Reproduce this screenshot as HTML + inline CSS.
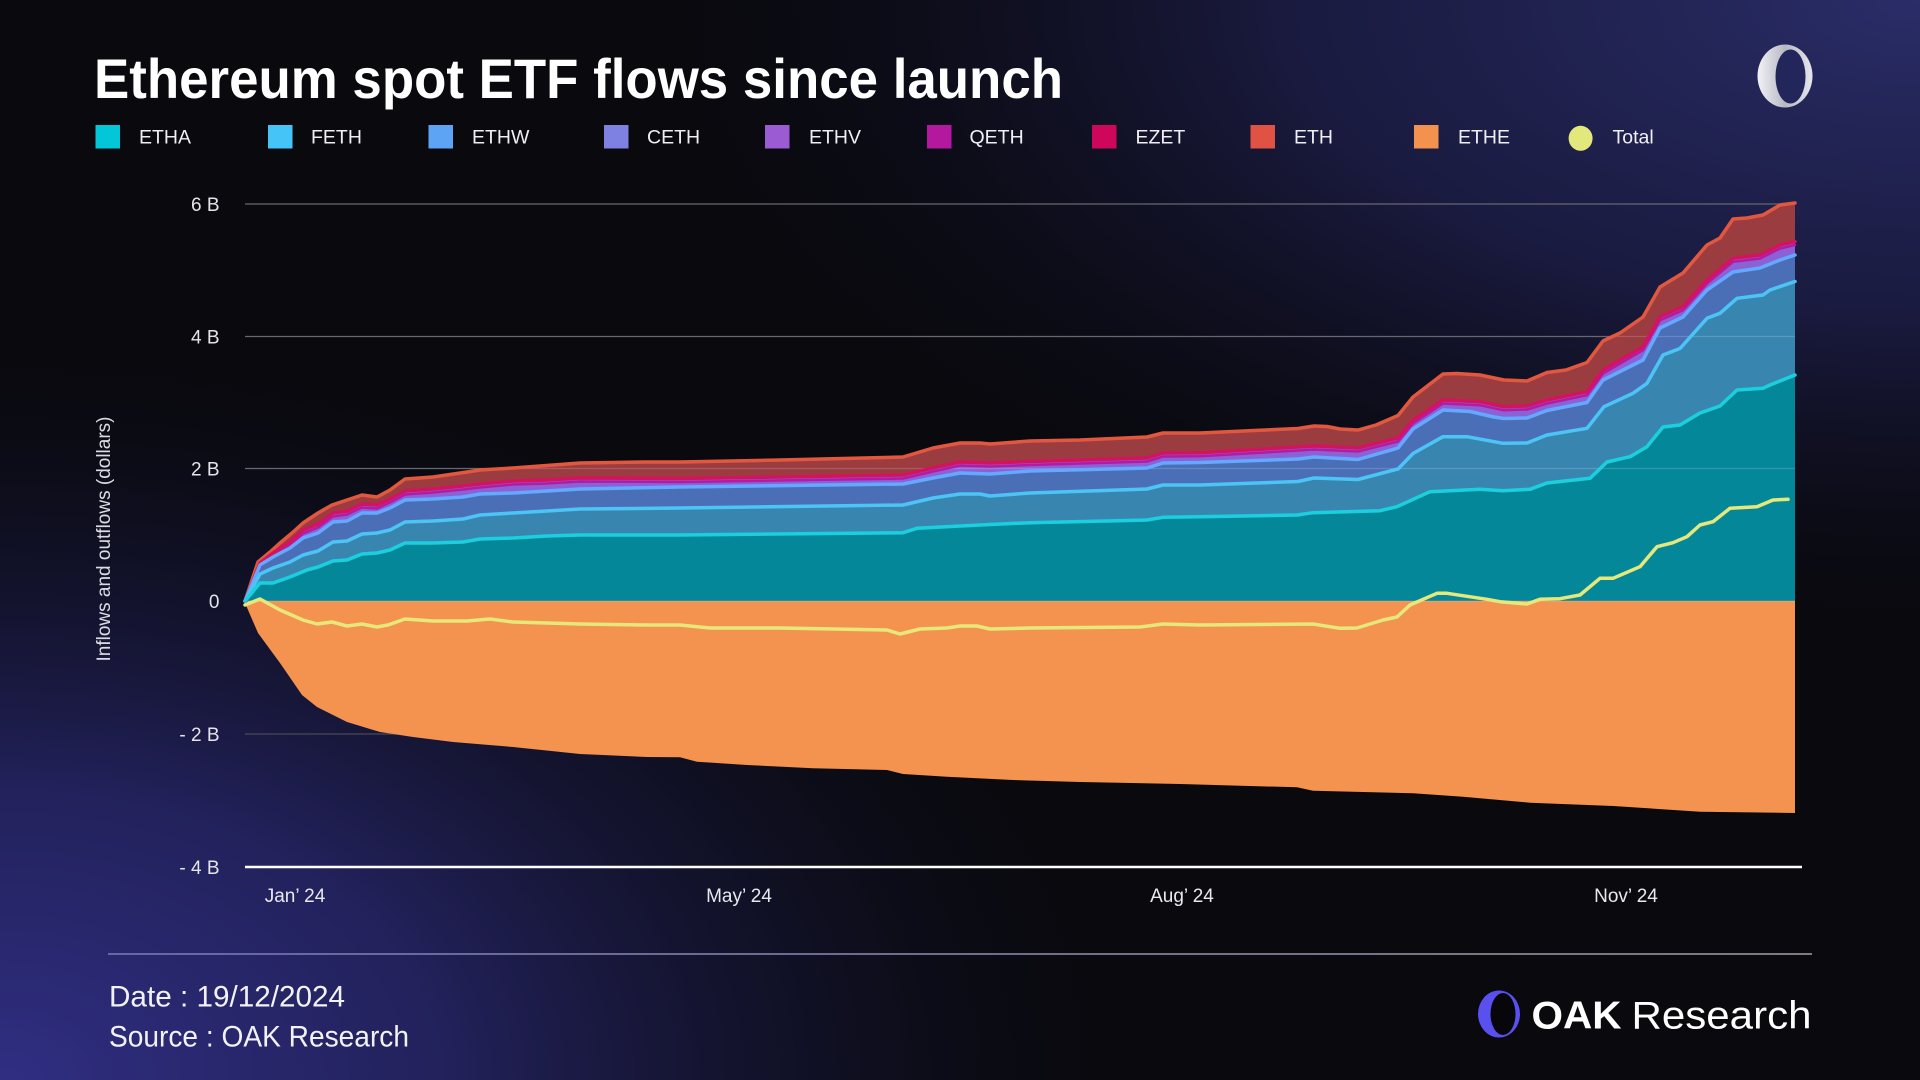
<!DOCTYPE html>
<html><head><meta charset="utf-8"><title>Ethereum spot ETF flows since launch</title>
<style>
html,body{margin:0;padding:0;background:#09090e;}
svg{display:block;}
text{font-family:"Liberation Sans",sans-serif;}
</style></head>
<body>
<svg width="1920" height="1080" viewBox="0 0 1920 1080" xmlns="http://www.w3.org/2000/svg">
<defs>
  <radialGradient id="bl" cx="0" cy="0" r="1" gradientUnits="userSpaceOnUse" gradientTransform="translate(0,1080) scale(1100,720)">
    <stop offset="0" stop-color="#302e82" stop-opacity="1"/>
    <stop offset="0.4" stop-color="#27266a" stop-opacity="0.85"/>
    <stop offset="0.75" stop-color="#1a1a44" stop-opacity="0.4"/>
    <stop offset="1" stop-color="#14142c" stop-opacity="0"/>
  </radialGradient>
  <radialGradient id="tr" cx="0" cy="0" r="1" gradientUnits="userSpaceOnUse" gradientTransform="translate(1920,0) scale(1250,620)">
    <stop offset="0" stop-color="#2a2d68" stop-opacity="1"/>
    <stop offset="0.5" stop-color="#1e1f4c" stop-opacity="0.8"/>
    <stop offset="1" stop-color="#101024" stop-opacity="0"/>
  </radialGradient>
  <linearGradient id="fl" gradientUnits="userSpaceOnUse" x1="108" y1="954" x2="1812" y2="954">
    <stop offset="0" stop-color="#7d7bb8"/>
    <stop offset="1" stop-color="#a2a2aa"/>
  </linearGradient>
  <linearGradient id="ring" x1="0" y1="0" x2="1" y2="0">
    <stop offset="0" stop-color="#f2f2f6"/>
    <stop offset="0.5" stop-color="#b8b8c4"/>
    <stop offset="1" stop-color="#e6e6ee"/>
  </linearGradient>
  <path id="zp" d="M245,601 L260,563 273,553 290,542 303,530 318,524 333,513 347,511 362,504 377,505 390,499 405,491 433,489 463,486 480,484 513,481 547,480 580,478 680,478.5 903,475 933,468 960,462 990,463 1030,461.5 1147,458 1163,453 1200,452.7 1298,447 1314,446 1358,448 1398,438 1413,420 1443,400 1480,401.7 1503,406.7 1527,406 1547,400 1587,391.7 1603,370 1643,346.7 1660,316.7 1683,306.7 1707,280 1733,258.3 1760,255 1780,245 1795,241.5"/>
</defs>

<!-- background -->
<rect x="0" y="0" width="1920" height="1080" fill="#09090e"/>
<rect x="0" y="0" width="1920" height="1080" fill="url(#tr)"/>
<rect x="0" y="0" width="1920" height="1080" fill="url(#bl)"/>

<!-- title -->
<text x="94" y="98" font-size="55.5" font-weight="bold" fill="#ffffff" textLength="969" lengthAdjust="spacingAndGlyphs">Ethereum spot ETF flows since launch</text>

<!-- top-right logo -->
<ellipse cx="1785" cy="76" rx="27.5" ry="31.5" fill="url(#ring)"/>
<ellipse cx="1790.5" cy="76.5" rx="15" ry="27" fill="#23265a"/>

<!-- legend -->
<g font-size="19.5" fill="#f0f0f4">
  <rect x="95.5" y="125" width="24.5" height="23.5" fill="#03c6d8"/><text x="139" y="143.5">ETHA</text>
  <rect x="268" y="125" width="24.5" height="23.5" fill="#45c4f8"/><text x="311" y="143.5">FETH</text>
  <rect x="428.5" y="125" width="24.5" height="23.5" fill="#5ea4f5"/><text x="472" y="143.5">ETHW</text>
  <rect x="604" y="125" width="24.5" height="23.5" fill="#7e80e2"/><text x="647" y="143.5">CETH</text>
  <rect x="765" y="125" width="24.5" height="23.5" fill="#9b5bd2"/><text x="809" y="143.5">ETHV</text>
  <rect x="927" y="125" width="24.5" height="23.5" fill="#b4189e"/><text x="969.5" y="143.5">QETH</text>
  <rect x="1092" y="125" width="24.5" height="23.5" fill="#cf075a"/><text x="1135.5" y="143.5">EZET</text>
  <rect x="1250.5" y="125" width="24.5" height="23.5" fill="#df5244"/><text x="1294" y="143.5">ETH</text>
  <rect x="1414" y="125" width="24.5" height="23.5" fill="#f3924e"/><text x="1458" y="143.5">ETHE</text>
  <ellipse cx="1580.6" cy="138.3" rx="12" ry="12.5" fill="#e2e87b"/><text x="1612.5" y="143.5">Total</text>
</g>

<!-- gridlines (under) -->
<g stroke="#4a4a54" stroke-width="1.2">
  <line x1="245" y1="204" x2="1795" y2="204"/>
  <line x1="245" y1="336.5" x2="1795" y2="336.5"/>
  <line x1="245" y1="468.5" x2="1795" y2="468.5"/>
  <line x1="245" y1="601" x2="1795" y2="601"/>
  <line x1="245" y1="734" x2="1795" y2="734"/>
</g>

<!-- y labels -->
<g font-size="19" fill="#e4e4ea" text-anchor="end">
  <text x="219.5" y="211">6 B</text>
  <text x="219.5" y="343.5">4 B</text>
  <text x="219.5" y="475.5">2 B</text>
  <text x="219.5" y="608">0</text>
  <text x="219.5" y="741">- 2 B</text>
  <text x="219.5" y="874">- 4 B</text>
</g>
<text transform="translate(110,539) rotate(-90)" font-size="19" fill="#dcdce4" text-anchor="middle">Inflows and outflows (dollars)</text>

<!-- x labels -->
<g font-size="19" fill="#e8e8ee" text-anchor="middle">
  <text x="295" y="902">Jan’ 24</text>
  <text x="739" y="902">May’ 24</text>
  <text x="1182" y="902">Aug’ 24</text>
  <text x="1626" y="902">Nov’ 24</text>
</g>

<!-- ETHE (negative) -->
<path d="M245,601 L245,603 258,633 280,663 302,695 317,707 347,722 380,732 413,737 453,742 513,747 580,754 647,757 680,757.3 697,761.7 747,765 813,768.3 887,770 903,774 947,776.7 1013,780 1080,782 1180,784 1297,787.3 1313,790.7 1413,793.3 1463,796.7 1530,802.7 1613,806 1700,811.7 1795,813 L1795,601 Z" fill="#f4924f"/>

<!-- ETH area (top) -->
<path d="M245,601 L258,562 270,552 280,543 292,533 303,523 318,513 332,505 347,500 362,495 377,497 390,490 405,479 433,477 467,472 480,470 513,468 540,466 580,463 647,462 680,462 780,460 903,457 933,448 960,443 980,443 990,444 1030,441 1080,440 1147,437 1163,433 1200,433 1298,428.5 1314,426 1327,426.5 1340,429 1358,430 1376,425 1398,415.5 1413,397 1443,374 1457,373.5 1480,375 1504,380 1527,381 1547,372.5 1566,370 1587,362.5 1603,341 1620,333 1643,317 1660,287 1683,273 1707,245 1720,238 1733,219 1747,218 1763,215 1780,205 1795,203 L1795,601 Z" fill="#9b3c41"/>

<!-- area under EZET (purple band) -->
<path d="M245,601 L260,563 273,553 290,542 303,530 318,524 333,513 347,511 362,504 377,505 390,499 405,491 433,489 463,486 480,484 513,481 547,480 580,478 680,478.5 903,475 933,468 960,462 990,463 1030,461.5 1147,458 1163,453 1200,452.7 1298,447 1314,446 1358,448 1398,438 1413,420 1443,400 1480,401.7 1503,406.7 1527,406 1547,400 1587,391.7 1603,370 1643,346.7 1660,316.7 1683,306.7 1707,280 1733,258.3 1760,255 1780,245 1795,241.5 L1795,601 Z" fill="#8a62d4"/>

<!-- ETHW area -->
<path d="M245,601 L260,565 273,557 290,548 303,538 318,533 333,522 347,521 362,513 377,513 390,508 405,500 433,499 463,497 480,494 513,493 547,491 580,489 680,487 903,484 933,478 960,473 990,474 1030,471 1147,468 1163,463 1200,462.5 1298,459 1314,457 1358,459.5 1398,448 1413,429 1443,410 1470,411.5 1494,417 1504,418.5 1527,418 1547,410.5 1587,402.5 1603,380 1643,360 1660,328 1683,317 1707,290 1733,272 1760,268 1780,260 1795,255 L1795,601 Z" fill="#4b6fb6"/>

<!-- FETH area -->
<path d="M245,601 L260,574 273,568 290,562 303,555 318,551 333,542 347,541 362,534 377,533 390,530 405,522 433,521 463,519 480,515 513,513 547,511 580,509 680,508 903,505 933,498 960,494 980,494 990,496 1030,493 1147,489 1163,485 1200,485 1298,481.5 1314,478 1358,479.5 1398,469 1413,453.5 1443,436.7 1467,436.7 1503,443.3 1527,443 1547,435 1587,428.3 1604,406.7 1633,393.3 1647,383.3 1663,355 1680,348.5 1707,318.3 1720,313.3 1737,298.3 1763,295 1770,290 1795,281.5 L1795,601 Z" fill="#3886b0"/>

<!-- ETHA area -->
<path d="M245,601 L260,583 273,583 290,577 307,570 318,567 333,561 347,560 362,554 377,553 390,550 405,543 433,543 463,542 480,539 513,538 547,536 580,535 680,535 903,532.7 917,528.3 980,525 1030,522.7 1147,520 1163,517.3 1200,516.7 1297,515 1313,512.7 1380,510.7 1397,506.7 1430,491.7 1480,489.3 1503,490.7 1530,489.3 1547,483 1590,478.3 1607,462 1630,456.7 1647,446.7 1663,427 1680,425 1700,413 1720,406 1737,390 1763,388.3 1770,385 1795,375 L1795,601 Z" fill="#05879a"/>

<!-- gridlines overlay -->
<g stroke="#ffffff" stroke-opacity="0.16" stroke-width="1.2">
  <line x1="245" y1="204" x2="1795" y2="204"/>
  <line x1="245" y1="336.5" x2="1795" y2="336.5"/>
  <line x1="245" y1="468.5" x2="1795" y2="468.5"/>
  <line x1="245" y1="601" x2="1795" y2="601"/>
</g>

<!-- series lines -->
<g fill="none" stroke-linejoin="round" stroke-linecap="round">
  <path d="M245,601 L258,562 270,552 280,543 292,533 303,523 318,513 332,505 347,500 362,495 377,497 390,490 405,479 433,477 467,472 480,470 513,468 540,466 580,463 647,462 680,462 780,460 903,457 933,448 960,443 980,443 990,444 1030,441 1080,440 1147,437 1163,433 1200,433 1298,428.5 1314,426 1327,426.5 1340,429 1358,430 1376,425 1398,415.5 1413,397 1443,374 1457,373.5 1480,375 1504,380 1527,381 1547,372.5 1566,370 1587,362.5 1603,341 1620,333 1643,317 1660,287 1683,273 1707,245 1720,238 1733,219 1747,218 1763,215 1780,205 1795,203" stroke="#e2583f" stroke-width="3.5"/>
  <use href="#zp" transform="translate(0,3.5)" stroke="#b41aa4" stroke-width="2.5"/>
  <use href="#zp" stroke="#d3135f" stroke-width="3.5"/>
  <path d="M245,601 L260,565 273,557 290,548 303,538 318,533 333,522 347,521 362,513 377,513 390,508 405,500 433,499 463,497 480,494 513,493 547,491 580,489 680,487 903,484 933,478 960,473 990,474 1030,471 1147,468 1163,463 1200,462.5 1298,459 1314,457 1358,459.5 1398,448 1413,429 1443,410 1470,411.5 1494,417 1504,418.5 1527,418 1547,410.5 1587,402.5 1603,380 1643,360 1660,328 1683,317 1707,290 1733,272 1760,268 1780,260 1795,255" stroke="#64a8ff" stroke-width="3.5"/>
  <path d="M245,601 L260,574 273,568 290,562 303,555 318,551 333,542 347,541 362,534 377,533 390,530 405,522 433,521 463,519 480,515 513,513 547,511 580,509 680,508 903,505 933,498 960,494 980,494 990,496 1030,493 1147,489 1163,485 1200,485 1298,481.5 1314,478 1358,479.5 1398,469 1413,453.5 1443,436.7 1467,436.7 1503,443.3 1527,443 1547,435 1587,428.3 1604,406.7 1633,393.3 1647,383.3 1663,355 1680,348.5 1707,318.3 1720,313.3 1737,298.3 1763,295 1770,290 1795,281.5" stroke="#4cc4f6" stroke-width="3.5"/>
  <path d="M245,601 L260,583 273,583 290,577 307,570 318,567 333,561 347,560 362,554 377,553 390,550 405,543 433,543 463,542 480,539 513,538 547,536 580,535 680,535 903,532.7 917,528.3 980,525 1030,522.7 1147,520 1163,517.3 1200,516.7 1297,515 1313,512.7 1380,510.7 1397,506.7 1430,491.7 1480,489.3 1503,490.7 1530,489.3 1547,483 1590,478.3 1607,462 1630,456.7 1647,446.7 1663,427 1680,425 1700,413 1720,406 1737,390 1763,388.3 1770,385 1795,375" stroke="#1ccfde" stroke-width="3.5"/>
  <path d="M245,605 L260,599 280,610 303,620 317,624 332,622 347,626 362,624 377,627 388,625 405,619 433,621 467,621 490,619 513,622 547,623 580,624 647,625 680,625 710,628 780,628 887,630 900,634 920,629 947,628 960,626 977,626 990,629 1030,628 1140,627 1163,624 1200,625 1313,624 1340,628.3 1357,628 1383,620 1397,617 1410,605 1437,593.3 1447,593.3 1487,599.3 1500,601.7 1527,604 1540,599.3 1560,598.7 1580,595 1600,578.3 1613,578.3 1640,566.7 1657,546.7 1673,542.7 1687,536.7 1700,525 1713,521.7 1730,508.3 1757,506.7 1773,500 1788,499.3" stroke="#e7e87a" stroke-width="3.5"/>
</g>

<!-- bottom axis line -->
<line x1="245" y1="867" x2="1802" y2="867" stroke="#ffffff" stroke-width="2.6"/>

<!-- footer -->
<line x1="108" y1="954" x2="1812" y2="954" stroke="url(#fl)" stroke-width="1.6"/>
<text x="109" y="1006.5" font-size="29.5" fill="#f2f2f6" textLength="236" lengthAdjust="spacingAndGlyphs">Date : 19/12/2024</text>
<text x="109" y="1046.5" font-size="29.5" fill="#f2f2f6" textLength="300" lengthAdjust="spacingAndGlyphs">Source : OAK Research</text>

<!-- OAK Research logo -->
<ellipse cx="1499" cy="1014" rx="21" ry="23.5" fill="#5a50f0"/>
<ellipse cx="1503" cy="1014" rx="12.5" ry="21" fill="#07070b"/>
<text x="1531.5" y="1028.5" font-size="39" font-weight="bold" fill="#ffffff" textLength="90" lengthAdjust="spacingAndGlyphs">OAK</text>
<text x="1631.5" y="1028.5" font-size="39" fill="#ffffff" textLength="180" lengthAdjust="spacingAndGlyphs">Research</text>
</svg>
</body></html>
